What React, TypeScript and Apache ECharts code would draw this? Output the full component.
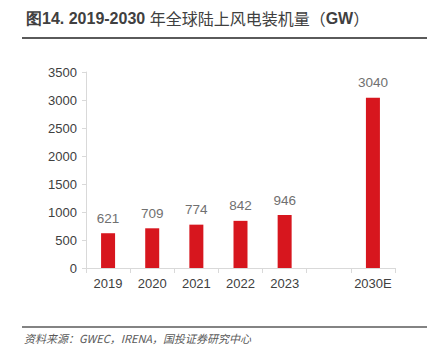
import React, { useEffect, useRef } from "react";
import * as echarts from "echarts";

const categories = ["2019", "2020", "2021", "2022", "2023", "", "2030E"];
const values: (number | string)[] = [621, 709, 774, 842, 946, "-", 3040];
const yTicks = { min: 0, max: 3500, interval: 500 };

export default function App() {
  const ref = useRef<HTMLDivElement>(null);
  useEffect(() => {
    if (!ref.current) return;
    const chart = echarts.init(ref.current, null, { renderer: "svg" });
    chart.setOption({
      animation: false,
      backgroundColor: "#ffffff",
      title: {
        text: "{b|图14. 2019-2030 }{a|年全球陆上风电装机量（}{b|GW}{a|）}",
        left: 21,
        top: 5,
        textStyle: {
          fontWeight: "normal",
          rich: {
            a: { fontSize: 16, color: "#404040", fontWeight: "normal", fontFamily: "Noto Sans CJK SC" },
            b: { fontSize: 16, color: "#404040", fontWeight: "bold", fontFamily: "Liberation Sans" },
          },
        },
      },
      graphic: [
        { type: "line", shape: { x1: 22, y1: 38, x2: 427, y2: 38 }, style: { stroke: "#5a5a5a", lineWidth: 2 } },
        { type: "line", shape: { x1: 22, y1: 327, x2: 427, y2: 327 }, style: { stroke: "#5a5a5a", lineWidth: 1.5 } },
        {
          type: "text",
          left: 24,
          top: 332,
          style: {
            text: "资料来源：GWEC，IRENA，国投证券研究中心",
            fontSize: 11,
            fontStyle: "italic",
            fill: "#595959",
            fontFamily: "Noto Sans CJK SC",
          },
        },
      ],
      grid: { left: 86, right: 45, top: 72, bottom: 92 },
      xAxis: {
        type: "category",
        data: categories,
        axisLine: { lineStyle: { color: "#d9d9d9" } },
        axisTick: { show: true, length: 5, lineStyle: { color: "#d9d9d9" }, interval: 0 },
        axisLabel: { color: "#404040", fontSize: 13, fontFamily: "Liberation Sans", margin: 9, interval: 0 },
      },
      yAxis: {
        type: "value",
        min: yTicks.min,
        max: yTicks.max,
        interval: yTicks.interval,
        splitLine: { show: false },
        axisLine: { show: true, lineStyle: { color: "#d9d9d9" } },
        axisTick: { show: true, length: 4, lineStyle: { color: "#d9d9d9" } },
        axisLabel: {
          color: "#404040",
          fontSize: 13,
          fontFamily: "Liberation Sans",
          margin: 9,
          formatter: (v: number) => String(v),
        },
      },
      series: [
        {
          type: "bar",
          data: values,
          barWidth: 14,
          itemStyle: { color: "#D7161E" },
          label: {
            show: true,
            position: "top",
            distance: 8,
            color: "#707070",
            fontSize: 13.5,
            fontFamily: "Liberation Sans",
          },
        },
      ],
    });
    return () => chart.dispose();
  }, []);
  return <div ref={ref} style={{ width: 440, height: 360, position: "absolute", left: 0, top: 0 }} />;
}
